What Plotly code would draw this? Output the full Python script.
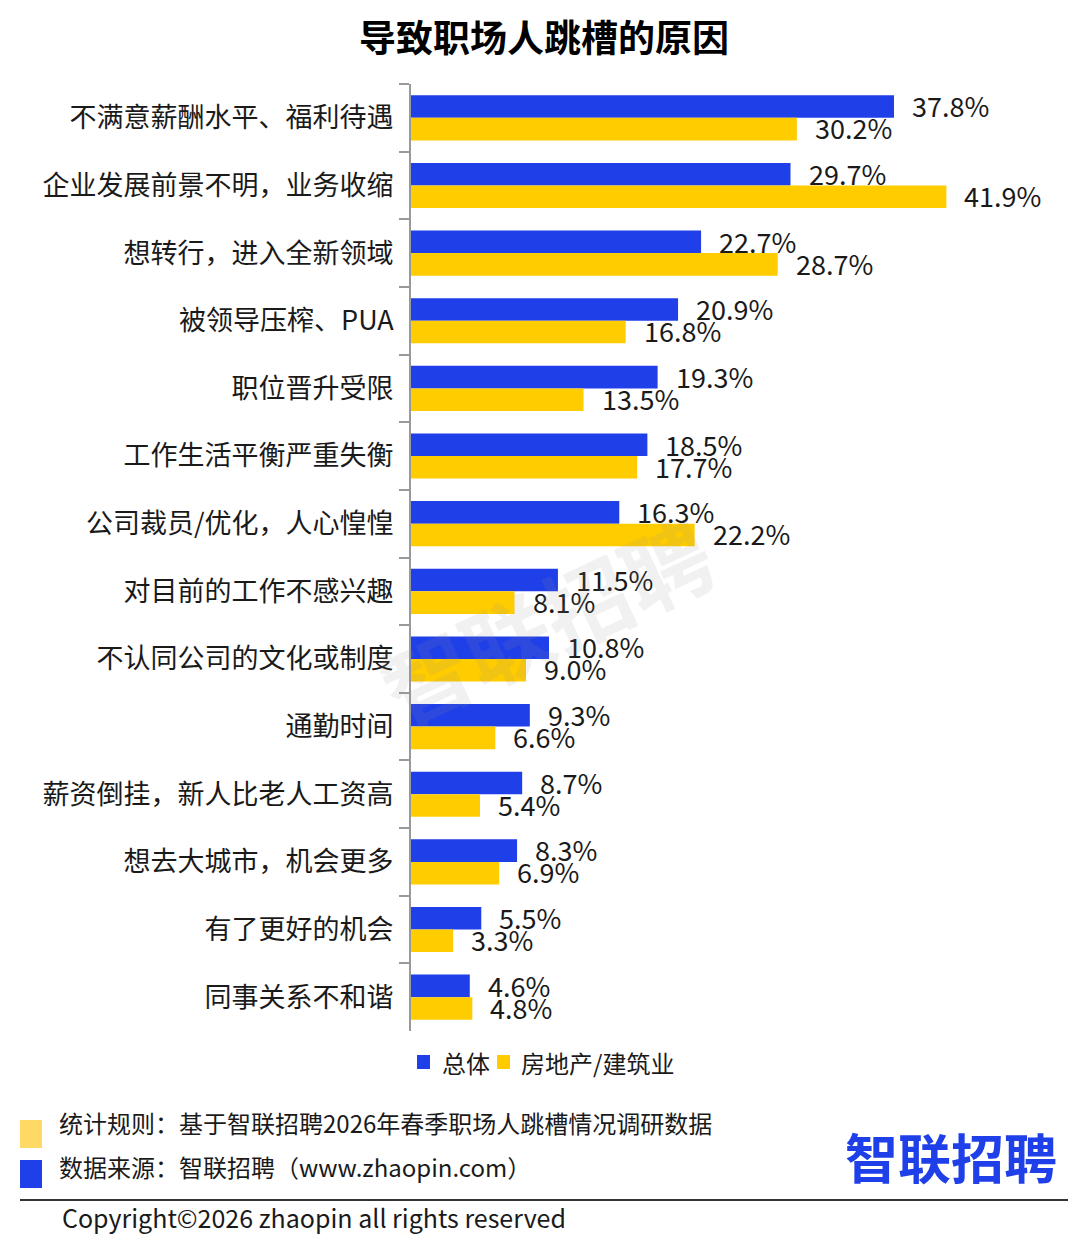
import plotly.graph_objects as go

categories = [
    "不满意薪酬水平、福利待遇",
    "企业发展前景不明，业务收缩",
    "想转行，进入全新领域",
    "被领导压榨、PUA",
    "职位晋升受限",
    "工作生活平衡严重失衡",
    "公司裁员/优化，人心惶惶",
    "对目前的工作不感兴趣",
    "不认同公司的文化或制度",
    "通勤时间",
    "薪资倒挂，新人比老人工资高",
    "想去大城市，机会更多",
    "有了更好的机会",
    "同事关系不和谐",
]
overall = [37.8, 29.7, 22.7, 20.9, 19.3, 18.5, 16.3, 11.5, 10.8, 9.3, 8.7, 8.3, 5.5, 4.6]
real_estate = [30.2, 41.9, 28.7, 16.8, 13.5, 17.7, 22.2, 8.1, 9.0, 6.6, 5.4, 6.9, 3.3, 4.8]
series_names = ["总体", "房地产/建筑业"]

BLUE = "#1F3FE8"
YELLOW = "#FFCC00"
FONT = "Noto Sans CJK SC, Noto Sans, sans-serif"
TXT = "#1a1a1a"

# page offset (browser body margin) compensation
OFF = 8
PAGE_W, PAGE_H = 1080, 1243
W, H = PAGE_W - OFF, PAGE_H - OFF
# plot area in page pixel coordinates
L, R, T, B = 411, 986, 84, 1031


def px(x):
    return (x - L) / (R - L)


def py(y):
    return (B - y) / (B - T)


fig = go.Figure()
fig.add_trace(go.Bar(y=categories, x=overall, name=series_names[0], orientation="h",
                     marker=dict(color=BLUE, line=dict(width=0)), showlegend=False))
fig.add_trace(go.Bar(y=categories, x=real_estate, name=series_names[1], orientation="h",
                     marker=dict(color=YELLOW, line=dict(width=0)), showlegend=False))

annotations = []
for cat, v in zip(categories, overall):
    annotations.append(dict(x=v, y=cat, xref="x", yref="y", text=f"{v:.1f}%", showarrow=False,
                            xanchor="left", yanchor="middle", xshift=16, yshift=12,
                            font=dict(family=FONT, size=27, color=TXT)))
for cat, v in zip(categories, real_estate):
    annotations.append(dict(x=v, y=cat, xref="x", yref="y", text=f"{v:.1f}%", showarrow=False,
                            xanchor="left", yanchor="middle", xshift=16, yshift=-10,
                            font=dict(family=FONT, size=27, color=TXT)))

# watermark
annotations.append(dict(x=px(545), y=py(618), xref="paper", yref="paper", text="<b>智联招聘</b>",
                        showarrow=False, textangle=-25, xanchor="center", yanchor="middle",
                        font=dict(family=FONT, size=88, color="rgba(150,150,150,0.13)")))

# legend (drawn manually to match spacing)
legend_items = [(series_names[0], BLUE, 417, 440), (series_names[1], YELLOW, 497, 519)]
shapes = []
for name, col, sx, tx in legend_items:
    shapes.append(dict(type="rect", xref="paper", yref="paper", x0=px(sx), x1=px(sx + 13),
                       y0=py(1069), y1=py(1055), fillcolor=col, line=dict(width=0)))
    annotations.append(dict(x=px(tx), y=py(1062), xref="paper", yref="paper", xanchor="left",
                            yanchor="middle", text=name, showarrow=False,
                            font=dict(family=FONT, size=24, color=TXT)))

# footer texts
annotations += [
    dict(x=px(57), y=py(1122), xref="paper", yref="paper", xanchor="left", yanchor="middle",
         text="统计规则：基于智联招聘2026年春季职场人跳槽情况调研数据", showarrow=False,
         font=dict(family=FONT, size=24, color=TXT)),
    dict(x=px(57), y=py(1166), xref="paper", yref="paper", xanchor="left", yanchor="middle",
         text="数据来源：智联招聘（www.zhaopin.com）", showarrow=False,
         font=dict(family=FONT, size=24, color=TXT)),
    dict(x=px(60), y=py(1217), xref="paper", yref="paper", xanchor="left", yanchor="middle",
         text="Copyright©2026 zhaopin all rights reserved", showarrow=False,
         font=dict(family=FONT, size=25, color=TXT)),
    dict(x=px(1059), y=py(1156), xref="paper", yref="paper", xanchor="right", yanchor="middle",
         text="<b>智联招聘</b>", showarrow=False,
         font=dict(family=FONT, size=53, color=BLUE)),
]

shapes += [
    dict(type="rect", xref="paper", yref="paper", x0=px(20), x1=px(42), y0=py(1148), y1=py(1120),
         fillcolor="#FFD966", line=dict(width=0)),
    dict(type="rect", xref="paper", yref="paper", x0=px(20), x1=px(42), y0=py(1188), y1=py(1160),
         fillcolor=BLUE, line=dict(width=0)),
    dict(type="line", xref="paper", yref="paper", x0=px(20), x1=px(1068), y0=py(1200), y1=py(1200),
         line=dict(color="#333333", width=2)),
]

fig.update_layout(
    width=W, height=H,
    margin=dict(l=L - OFF, r=PAGE_W - R, t=T - OFF, b=PAGE_H - B, pad=0, autoexpand=False),
    paper_bgcolor="white", plot_bgcolor="white",
    barmode="group", bargap=0.333, bargroupgap=0,
    showlegend=False,
    title=dict(text="<b>导致职场人跳槽的原因</b>", xref="container", yref="container",
               x=(544 - OFF) / W, y=1 - (39 - OFF) / H, xanchor="center", yanchor="middle",
               font=dict(family=FONT, size=37, color="#000000")),
    annotations=annotations,
    shapes=shapes,
    font=dict(family=FONT, color=TXT),
)
fig.update_xaxes(range=[0, 45], showticklabels=False, showgrid=False, zeroline=False,
                 showline=False, ticks="", fixedrange=True)
fig.update_yaxes(autorange="reversed", showgrid=False, zeroline=False, showline=True,
                 linecolor="#999999", linewidth=2, ticks="outside", tickson="boundaries",
                 ticklen=10, tickwidth=2, tickcolor="#999999", ticklabelstandoff=10,
                 tickfont=dict(family=FONT, size=27, color=TXT))

fig.write_html("out.html")
